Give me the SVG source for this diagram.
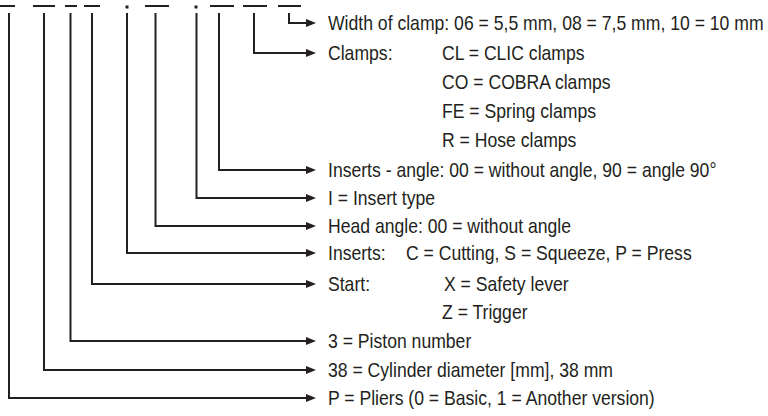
<svg xmlns="http://www.w3.org/2000/svg" width="768" height="416" viewBox="0 0 768 416">
<defs>
<style>
.bg{fill:#ffffff}
.dash{stroke:#231f20;stroke-width:2;fill:none}
.dot{fill:#231f20}
.conn{stroke:#231f20;stroke-width:2;fill:none;marker-end:url(#arr)}
.t{font-family:"Liberation Sans",Arial,sans-serif;font-size:20px;fill:#231f20;white-space:pre}
</style>
<marker id="arr" markerUnits="userSpaceOnUse" markerWidth="10" markerHeight="8" refX="2" refY="4" orient="auto">
<path d="M0,0 L10,4 L0,8 Z" fill="#231f20"/>
</marker>
</defs>
<rect class="bg" x="0" y="0" width="768" height="416"/>
<g id="code">
<path class="dash" d="M0,6 H15 M33,6 H55 M65,6 H77 M84,6 H100 M145,6 H169 M210,6 H234 M243,6 H267 M278,6 H301"/>
<rect class="dot" x="125.5" y="5.5" width="3" height="3"/>
<rect class="dot" x="194.5" y="5.5" width="3" height="3"/>
</g>
<g id="connectors">
<path class="conn" d="M289,13 V23 H308"/>
<path class="conn" d="M254,13 V53 H308"/>
<path class="conn" d="M219,13 V170 H308"/>
<path class="conn" d="M196.5,13 V198 H308"/>
<path class="conn" d="M155.5,13 V226 H308"/>
<path class="conn" d="M127,13 V253 H308"/>
<path class="conn" d="M92,13 V284 H308"/>
<path class="conn" d="M70.5,13 V341 H308"/>
<path class="conn" d="M44,13 V370 H308"/>
<path class="conn" d="M9,13 V398 H308"/>
</g>
<g id="width">
<text class="t" transform="translate(328,30) scale(0.88,1)">Width of clamp: 06 = 5,5 mm, 08 = 7,5 mm, 10 = 10 mm</text>
</g>
<g id="clamps">
<text class="t" transform="translate(328,60) scale(0.88,1)">Clamps:</text>
<text class="t" transform="translate(442,60) scale(0.88,1)">CL = CLIC clamps</text>
<text class="t" transform="translate(442,89) scale(0.88,1)">CO = COBRA clamps</text>
<text class="t" transform="translate(442,118) scale(0.88,1)">FE = Spring clamps</text>
<text class="t" transform="translate(442,147) scale(0.88,1)">R = Hose clamps</text>
</g>
<g id="inserts-angle">
<text class="t" transform="translate(328,177) scale(0.88,1)">Inserts - angle: 00 = without angle, 90 = angle 90°</text>
</g>
<g id="insert-type">
<text class="t" transform="translate(328,205) scale(0.88,1)">I = Insert type</text>
</g>
<g id="head-angle">
<text class="t" transform="translate(328,233) scale(0.88,1)">Head angle: 00 = without angle</text>
</g>
<g id="inserts">
<text class="t" transform="translate(328,260) scale(0.88,1)">Inserts:</text>
<text class="t" transform="translate(406,260) scale(0.88,1)">C = Cutting, S = Squeeze, P = Press</text>
</g>
<g id="start">
<text class="t" transform="translate(328,291) scale(0.88,1)">Start:</text>
<text class="t" transform="translate(444,291) scale(0.88,1)">X = Safety lever</text>
<text class="t" transform="translate(442,319) scale(0.88,1)">Z = Trigger</text>
</g>
<g id="piston">
<text class="t" transform="translate(328,348) scale(0.88,1)">3 = Piston number</text>
</g>
<g id="cylinder">
<text class="t" transform="translate(328,377) scale(0.88,1)">38 = Cylinder diameter [mm], 38 mm</text>
</g>
<g id="pliers">
<text class="t" transform="translate(328,405) scale(0.88,1)">P = Pliers (0 = Basic, 1 = Another version)</text>
</g>
</svg>
